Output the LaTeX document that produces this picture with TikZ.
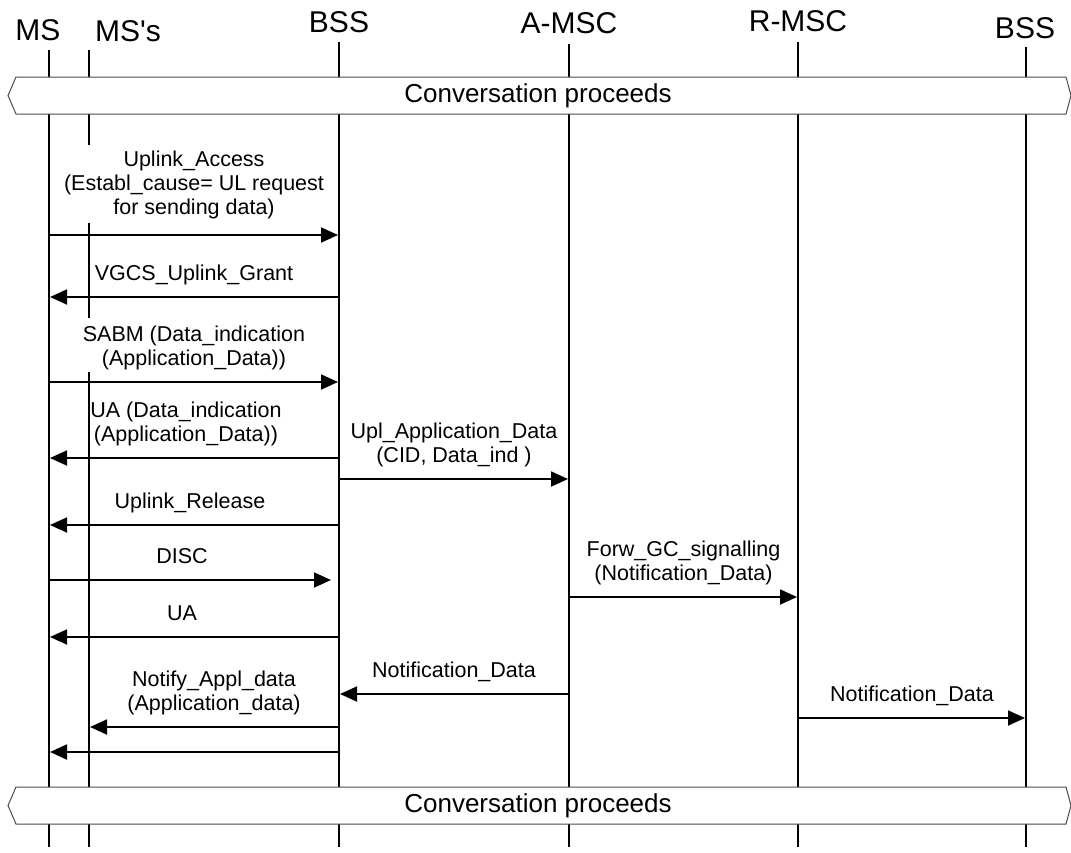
\documentclass[tikz,border=0pt]{standalone}
\usepackage{fontspec}
\setmainfont{Liberation Sans}
\usetikzlibrary{arrows.meta,positioning,calc}

\begin{document}
\begin{tikzpicture}[
		x=1pt, y=-1pt,
		head/.style={font=\fontsize{30}{34}\selectfont, inner sep=0pt},
		life/.style={line width=2.8pt},
		msg/.style={line width=1.8pt, -{Triangle[length=17pt, width=15pt]}, shorten >=1pt},
		lbl/.style={font=\fontsize{21.5}{24}\selectfont, align=center, inner sep=0pt, text depth=0pt},
		bar/.style={draw=black!70, line width=1pt, fill=white},
		>=Latex
	]
	\useasboundingbox (0,0) rectangle (1071,852);

	% entities
	\node[head] (ms)   at (38,30)   {MS};
	\node[head] (mss)  at (128,31)  {MS\textquotesingle s};
	\node[head] (bss)  at (339,22)  {BSS};
	\node[head] (amsc) at (569,23)  {A-MSC};
	\node[head] (rmsc) at (798,21)  {R-MSC};
	\node[head] (bssr) at (1025,28) {BSS};

	\coordinate (lms)   at (49,50);
	\coordinate (lmss)  at (89,50);
	\coordinate (lbss)  at (339,42);
	\coordinate (lamsc) at (569,44);
	\coordinate (lrmsc) at (798,42);
	\coordinate (lbssr) at (1026,47);

	% life lines
	\draw[life] (lms) -- (lms |- 0,847);
	\draw[life] (lbss) -- (lbss |- 0,847);
	\draw[life] (lamsc) -- (lamsc |- 0,847);
	\draw[life] (lrmsc) -- (lrmsc |- 0,847);
	\draw[life] (lbssr) -- (lbssr |- 0,847);
	\draw[life] (lmss) -- (lmss |- 0,145);
	\draw[life] (lmss |- 0,223) -- (lmss |- 0,318);
	\draw[life] (lmss |- 0,372) -- (lmss |- 0,847);

	% conversation bars
	\draw[bar] (16,77) -- (1066,77) -- (1071,95.5) -- (1066,114) -- (16,114) -- (8,95.5) -- cycle;
	\node[font=\fontsize{26}{30}\selectfont] (conv1) at (538,96) {Conversation proceeds};
	\draw[bar] (16,787) -- (1066,787) -- (1071,805.5) -- (1066,824) -- (16,824) -- (8,805.5) -- cycle;
	\node[font=\fontsize{26}{30}\selectfont] (conv2) at (538,806) {Conversation proceeds};

	% messages
	\draw[msg] (lms |- 0,235) -- node[lbl, above=20pt] {Uplink\_Access\\(Establ\_cause= UL request\\for sending data)} (lbss |- 0,235);
	\draw[msg] (lbss |- 0,297) -- node[lbl, above=16pt] {VGCS\_Uplink\_Grant} (lms |- 0,297);
	\draw[msg] (lms |- 0,382) -- node[lbl, above=16pt] {SABM (Data\_indication\\(Application\_Data))} (lbss |- 0,382);
	\draw[msg] (lbss |- 0,458) -- node[lbl, above=16pt, xshift=-8pt] {UA (Data\_indication\\(Application\_Data))} (lms |- 0,458);
	\draw[msg] (lbss |- 0,479) -- node[lbl, above=16pt] {Upl\_Application\_Data\\(CID, Data\_ind )} (lamsc |- 0,479);
	\draw[msg] (lbss |- 0,525) -- node[lbl, above=16pt, xshift=-4pt] {Uplink\_Release} (lms |- 0,525);
	\draw[msg, shorten >=8pt] (lms |- 0,580) -- node[lbl, above=16pt, xshift=-12pt] {DISC} (lbss |- 0,580);
	\draw[msg] (lamsc |- 0,597) -- node[lbl, above=16pt] {Forw\_GC\_signalling\\(Notification\_Data)} (lrmsc |- 0,597);
	\draw[msg] (lbss |- 0,637) -- node[lbl, above=16pt, xshift=-12pt] {UA} (lms |- 0,637);
	\draw[msg] (lamsc |- 0,694) -- node[lbl, above=16pt] {Notification\_Data} (lbss |- 0,694);
	\draw[msg] (lrmsc |- 0,718) -- node[lbl, above=16pt] {Notification\_Data} (lbssr |- 0,718);
	\draw[msg] (lbss |- 0,727) -- node[lbl, above=16pt] {Notify\_Appl\_data\\(Application\_data)} (lmss |- 0,727);
	\draw[msg] (lbss |- 0,752) -- (lms |- 0,752);
\end{tikzpicture}
\end{document}
